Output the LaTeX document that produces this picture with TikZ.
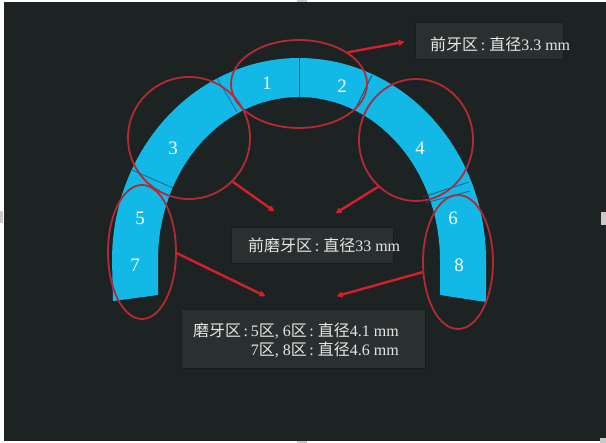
\documentclass[tikz,border=0pt]{standalone}
\usepackage{fontspec}
\setmainfont{Liberation Serif}
\newfontfamily\cjk{Noto Sans CJK SC}
\usetikzlibrary{arrows.meta,shapes.geometric}
\definecolor{bgdark}{HTML}{1D2323}
\definecolor{archblue}{HTML}{12B9E6}
\definecolor{ringred}{HTML}{B32A36}
\definecolor{pointred}{HTML}{D61F2E}
\definecolor{boxgray}{HTML}{2A3030}
\definecolor{boxedge}{HTML}{181D1D}
\definecolor{txtlight}{HTML}{E6E6E6}
\definecolor{handlegray}{HTML}{C9C9C9}
\definecolor{seam}{HTML}{1B5068}
\begin{document}
\begin{tikzpicture}[x=1pt,y=-1pt,
  ring/.style 2 args={draw=ringred,line width=1.8pt,ellipse,inner sep=0pt,
    minimum width=#1,minimum height=#2},
  pointer/.style={draw=pointred,line width=2.4pt,
    -{Latex[length=7pt,width=7pt,round]}},
  numeral/.style={text=white,inner sep=0pt,font=\fontsize{19}{19}\selectfont},
  caption/.style={text=txtlight,inner sep=0pt,font=\fontsize{16}{16}\selectfont},
  panel/.style={fill=boxgray,draw=boxedge,line width=0.8pt,inner sep=0pt},
  seamline/.style={draw=seam,line width=0.9pt},
  handle/.style={fill=handlegray}]
\useasboundingbox (0,0) rectangle (606,443);
% canvas and frame
\fill[white] (0,0) rectangle (606,443);
\fill[bgdark] (4,2) rectangle (606,441);
\fill[handle] (297,0) rectangle (307,2);
\fill[handle] (297,441) rectangle (307,443);
\fill[handle] (0,211) rectangle (3,223);
\fill[handle] (601,212) rectangle (606,225);
\fill[handle] (600,438) rectangle (606,443);

% dental arch band
\fill[archblue] (113,301) -- (112,260)
  -- plot[domain=180:0,samples=90] ({299+187*cos(\x)},{260-202*sin(\x)})
  -- (486,302) -- (440,295) -- (440,260)
  -- plot[domain=0:180,samples=90] ({299+141*cos(\x)},{260-163*sin(\x)})
  -- (158,295) -- cycle;

% seams between zones
\draw[seamline] (299,58) -- (299,97);
\draw[seamline,opacity=0.6] (217,78) -- (237,112);
\draw[seamline] (372,75) -- (355,110);
\draw[seamline,opacity=0.7] (132,170) -- (173,188);
\draw[seamline,opacity=0.8] (423,197) -- (469,182);
\draw[seamline,opacity=0.8] (425,203) -- (470,191);

% zone numbers
\node[numeral] (n1) at (267,83) {1};
\node[numeral] (n2) at (342,86) {2};
\node[numeral] (n3) at (173,148) {3};
\node[numeral] (n4) at (420,148) {4};
\node[numeral] (n5) at (140,218) {5};
\node[numeral] (n6) at (453,218) {6};
\node[numeral] (n7) at (135,265) {7};
\node[numeral] (n8) at (459,265) {8};

% zone outlines
\node[ring={136pt}{88pt}] (eTop) at (299,84) {};
\node[ring={122pt}{122pt}] (eL) at (189,138) {};
\node[ring={114pt}{122pt}] (eR) at (416,140) {};
\node[ring={68pt}{134pt}] (eLL) at (142,252) {};
\node[ring={70pt}{134pt}] (eRR) at (458,262) {};

% label panels
\node[panel,minimum width=148pt,minimum height=37pt] (bTop) at (489,40.5) {};
\node[panel,minimum width=162pt,minimum height=36pt] (bMid) at (312,245) {};
\node[panel,minimum width=244pt,minimum height=59pt] (bLow) at (303,338.5) {};

\node[caption,anchor=base west] (tTop) at (430,51)
  {{\cjk 前牙区}\,:\ {\cjk 直径}3.3 mm};
\node[caption,anchor=base west] (tMid) at (248,252)
  {{\cjk 前磨牙区}\,:\ {\cjk 直径}33 mm};
\node[caption,anchor=base east] (tLow1) at (399,337)
  {{\cjk 磨牙区}\,:\,5{\cjk 区}, 6{\cjk 区}\,:\ {\cjk 直径}4.1 mm};
\node[caption,anchor=base east] (tLow2) at (399,356)
  {7{\cjk 区}, 8{\cjk 区}\,:\ {\cjk 直径}4.6 mm};

% pointer targets
\coordinate (pTop) at (404,42);
\coordinate (pMidL) at (274,211);
\coordinate (pMidR) at (336,213);
\coordinate (pLowL) at (265,296);
\coordinate (pLowR) at (337,296);

% pointers
\draw[pointer] (eTop.33) -- (pTop);
\draw[pointer] (eL.-45) -- (pMidL);
\draw[pointer] (eR.-129) -- (pMidR);
\draw[pointer] (eLL.-2) -- (pLowL);
\draw[pointer] (eRR.-164) -- (pLowR);
\end{tikzpicture}
\end{document}
